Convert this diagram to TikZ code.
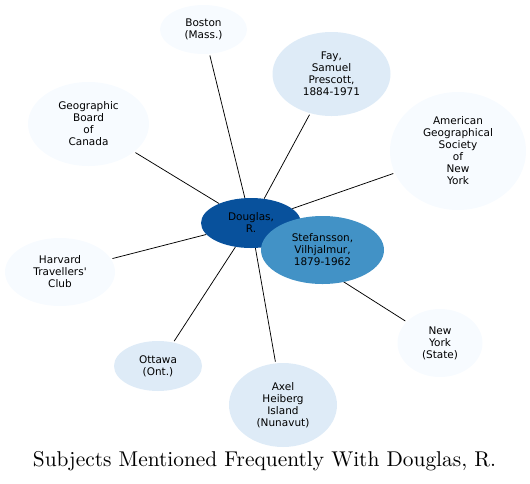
\documentclass[tikz,border=0pt]{standalone}
\usepackage{fontspec}
\newfontfamily\subjfont{DejaVu Sans}
\newfontfamily\titlefont{lmroman10-regular.otf}
\usetikzlibrary{shapes.geometric,backgrounds}

\definecolor{dougblue}{HTML}{08519C}
\definecolor{stefblue}{HTML}{4292C6}
\definecolor{midblue}{HTML}{DEEBF7}
\definecolor{paleblue}{HTML}{F7FBFF}

\begin{document}
\begin{tikzpicture}[x=1pt, y=-1pt,
    subj/.style={ellipse, draw=none, inner sep=0pt, align=center,
      font=\subjfont\fontsize{10.5}{12}\selectfont},
    link/.style={line width=.75pt, shorten >=1.5pt}]
  \useasboundingbox (0,0) rectangle (530,483);

  % the centre and the subject next to it
  \node[subj, fill=dougblue, minimum width=100, minimum height=50] (dg) at (251,223) {Douglas,\\R.};
  \node[subj, fill=stefblue, minimum width=123, minimum height=68] (st) at (322.5,250) {Stefansson,\\Vilhjalmur,\\1879-1962};

  % the other subjects
  \node[subj, fill=paleblue, minimum width=87, minimum height=49] (bos) at (203.5,29.5) {Boston\\(Mass.)};
  \node[subj, fill=midblue, minimum width=118, minimum height=84] (fay) at (331.5,74) {Fay,\\Samuel\\Prescott,\\1884-1971};
  \node[subj, fill=paleblue, minimum width=121, minimum height=84] (gbc) at (88.5,124) {Geographic\\Board\\of\\Canada};
  \node[subj, fill=paleblue, minimum width=136, minimum height=118] (ags) at (458,151) {American\\Geographical\\Society\\of\\New\\York};
  \node[subj, fill=paleblue, minimum width=110, minimum height=68] (htc) at (60,272) {Harvard\\Travellers'\\Club};
  \node[subj, fill=paleblue, minimum width=85, minimum height=68] (nys) at (440,343) {New\\York\\(State)};
  \node[subj, fill=midblue, minimum width=88, minimum height=50] (ott) at (158,366) {Ottawa\\(Ont.)};
  \node[subj, fill=midblue, minimum width=108, minimum height=84] (ahi) at (283,405) {Axel\\Heiberg\\Island\\(Nunavut)};

  % links from the centre
  \begin{scope}[on background layer]
    \foreach \n in {bos,fay,gbc,ags,htc,nys,ott,ahi}
      \draw[link] (dg) -- (\n);
  \end{scope}

  \node[anchor=base, inner sep=0pt, font=\titlefont\fontsize{21.4}{24}\selectfont] (title) at (264.5,466) {Subjects Mentioned Frequently With Douglas, R.};
\end{tikzpicture}
\end{document}
